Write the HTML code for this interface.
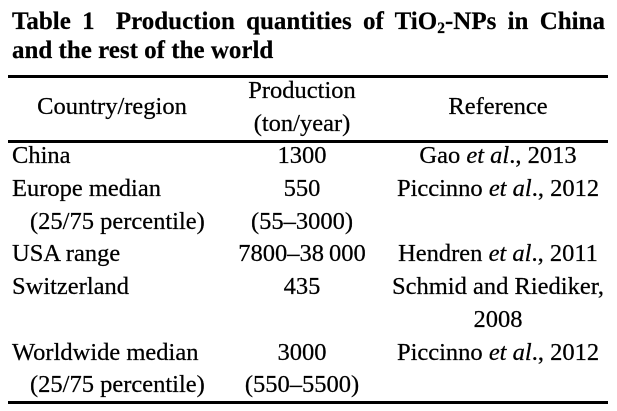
<!DOCTYPE html>
<html>
<head>
<meta charset="utf-8">
<style>
  html, body { margin:0; padding:0; background:#fff; }
  body { width:617px; height:411px; position:relative; overflow:hidden;
         font-family:"Liberation Serif", "Times New Roman", "Nimbus Roman", serif; color:#000; }
  .t { position:absolute; white-space:nowrap; line-height:1; font-size:24.5px; -webkit-text-stroke:0.25px #000; }
  .c2 { left:152px; width:300px; text-align:center; }
  .c3 { left:348px; width:300px; text-align:center; }
  .title { position:absolute; left:12px; font-weight:bold; font-size:25px; line-height:1; white-space:nowrap; -webkit-text-stroke:0.2px #000; }
  .rule { position:absolute; left:8px; width:600px; height:3px; background:#000; }
  i { font-style:italic; }
  sub { font-size:0.62em; vertical-align:-0.25em; line-height:0; }
</style>
</head>
<body>
  <div class="title" style="top:9px; width:593px; text-align:justify; text-align-last:justify;">Table&nbsp;1<span style="display:inline-block;width:10px"></span> Production quantities of TiO<sub>2</sub>-NPs in China</div>
  <div class="title" style="top:38px;">and the rest of the world</div>

  <div class="rule" style="top:75px;"></div>

  <div class="t" style="left:0; width:224px; text-align:center; top:95px;">Country/region</div>
  <div class="t c2" style="top:79px;">Production</div>
  <div class="t c2" style="top:112px;">(ton/year)</div>
  <div class="t c3" style="top:95px;">Reference</div>

  <div class="rule" style="top:140px;"></div>

  <div class="t" style="left:12px; top:144px;">China</div>
  <div class="t c2" style="top:144px;">1300</div>
  <div class="t c3" style="top:144px;">Gao <i>et al</i>., 2013</div>

  <div class="t" style="left:12px; top:177px;">Europe median</div>
  <div class="t c2" style="top:177px;">550</div>
  <div class="t c3" style="top:177px;">Piccinno <i>et al</i>., 2012</div>
  <div class="t" style="left:30px; top:210px;">(25/75 percentile)</div>
  <div class="t c2" style="top:210px;">(55–3000)</div>

  <div class="t" style="left:12px; top:242px;">USA range</div>
  <div class="t c2" style="top:242px;">7800–38&#8201;000</div>
  <div class="t c3" style="top:242px;">Hendren <i>et al</i>., 2011</div>

  <div class="t" style="left:12px; top:275px;">Switzerland</div>
  <div class="t c2" style="top:275px;">435</div>
  <div class="t c3" style="top:275px;">Schmid and Riediker,</div>
  <div class="t c3" style="top:308px;">2008</div>

  <div class="t" style="left:12px; top:341px;">Worldwide median</div>
  <div class="t c2" style="top:341px;">3000</div>
  <div class="t c3" style="top:341px;">Piccinno <i>et al</i>., 2012</div>
  <div class="t" style="left:30px; top:373px;">(25/75 percentile)</div>
  <div class="t c2" style="top:373px;">(550–5500)</div>

  <div class="rule" style="top:401px;"></div>
</body>
</html>
